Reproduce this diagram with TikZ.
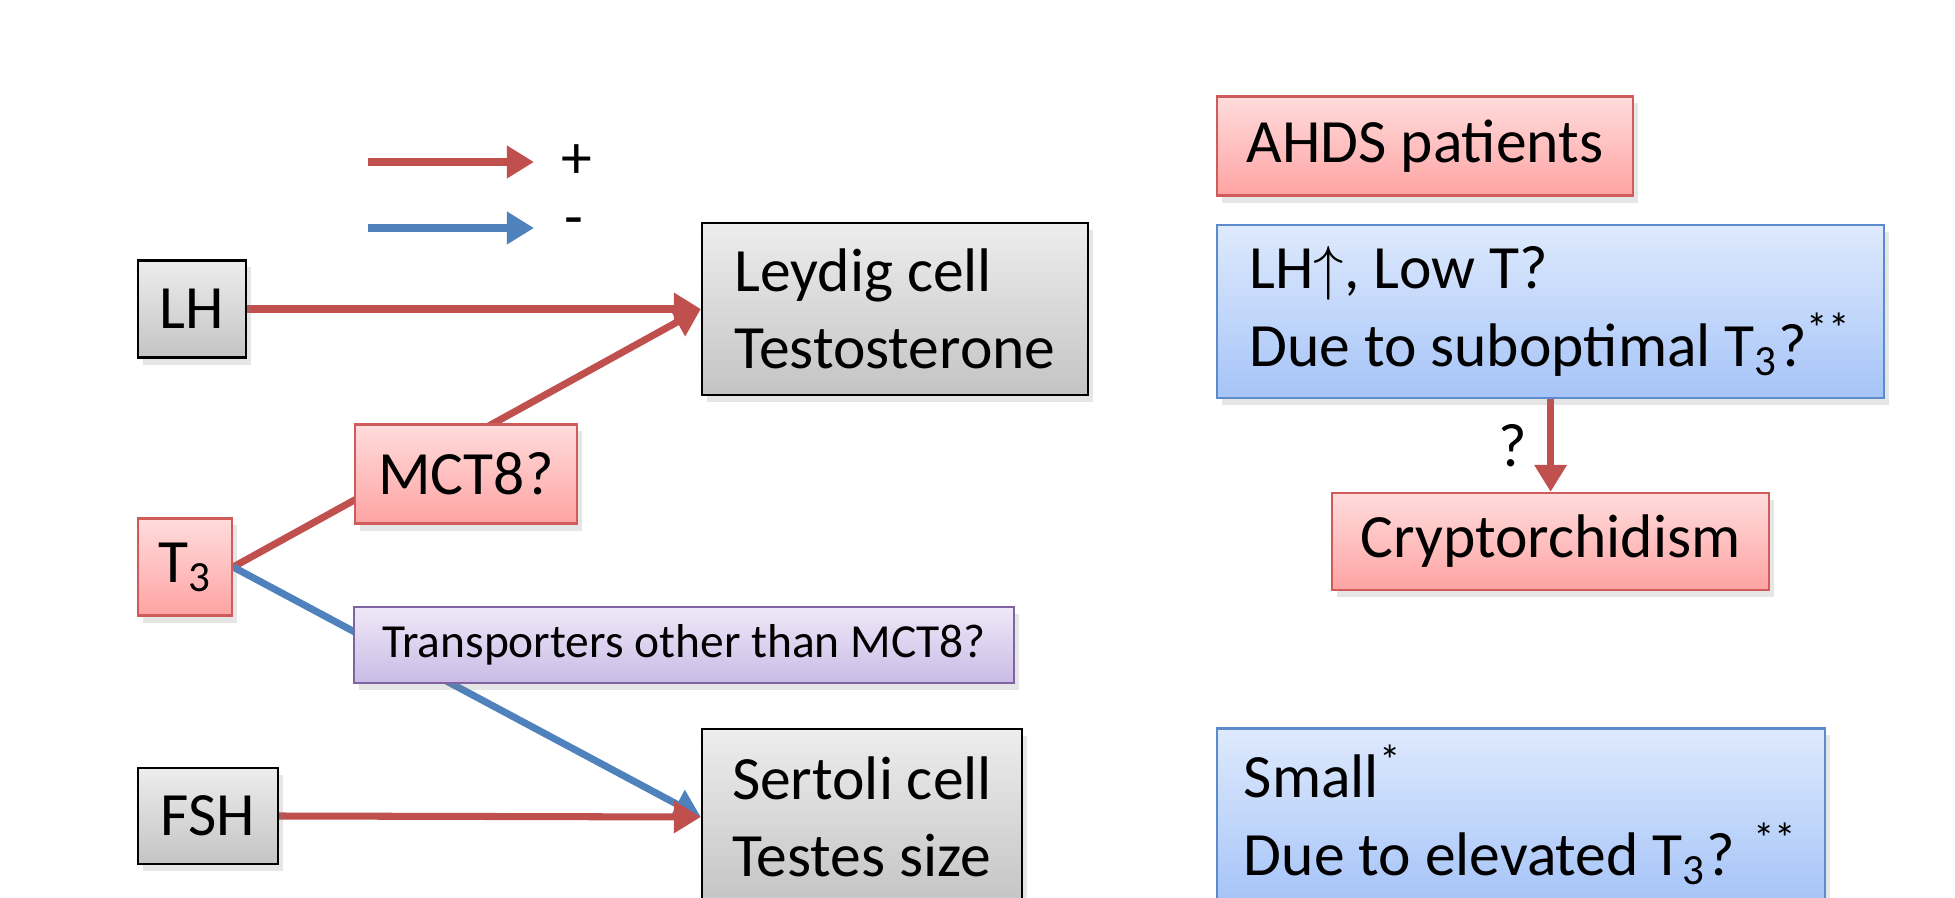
\documentclass[tikz,border=0pt]{standalone}
\usepackage{fontspec}
\setmainfont{Carlito}
\usetikzlibrary{arrows.meta,positioning,shadows,backgrounds}
\definecolor{posred}{HTML}{C0504D}
\definecolor{negblue}{HTML}{4F81BD}
\definecolor{greytop}{HTML}{EDEDED}
\definecolor{greybot}{HTML}{C4C4C4}
\definecolor{pinkline}{HTML}{CF5B5B}
\definecolor{pinktop}{HTML}{FFDCDC}
\definecolor{pinkbot}{HTML}{FFA3A3}
\definecolor{blueline}{HTML}{5B8BCB}
\definecolor{bluetop}{HTML}{DEEAFD}
\definecolor{bluebot}{HTML}{A6C4F8}
\definecolor{purpleline}{HTML}{8064A2}
\definecolor{purpletop}{HTML}{EFE8F8}
\definecolor{purplebot}{HTML}{CABBE6}

\begin{document}
\begin{tikzpicture}[x=0.01cm, y=-0.01cm, node distance=0.93cm,
    every node/.style={font=\fontsize{17.5}{22}\selectfont},
    box/.style={draw, line width=0.6pt, align=left, inner sep=0pt,
      drop shadow={opacity=0.2, shadow xshift=0.5mm, shadow yshift=-0.7mm}},
    boxsize/.style 2 args={minimum width=#1, minimum height=#2},
    greybox/.style={box, draw=black, top color=greytop, bottom color=greybot},
    pinkbox/.style={box, draw=pinkline, top color=pinktop, bottom color=pinkbot},
    bluebox/.style={box, draw=blueline, top color=bluetop, bottom color=bluebot},
    purplebox/.style={box, draw=purpleline, top color=purpletop, bottom color=purplebot},
    posarrow/.style={-{Triangle[length=2.7mm, width=3.1mm]}, line width=2pt, posred},
    negarrow/.style={-{Triangle[length=2.7mm, width=3.1mm]}, line width=2pt, negblue}]
  \useasboundingbox (0,0) rectangle (1955,898);
  \clip (0,0) rectangle (1955,898);
  % legend
  \coordinate (legpos) at (368,162);
  \coordinate (legneg) at (368,228);
  \node[anchor=west, inner xsep=0.27cm] (plus) at (534,162) {+};
  \node[anchor=west, inner xsep=0.3cm] (minus) at (534,228) {-};
  % hormones and cells
  \node[greybox, boxsize={1.08cm}{0.97cm}] (lh) at (192,309) {LH};
  \node[greybox, boxsize={3.86cm}{1.72cm}] (leydig) at (895,309) {Leydig cell\\Testosterone};
  \node[pinkbox, boxsize={2.21cm}{0.99cm}] (mct) at (466,474) {MCT8?};
  \node[pinkbox, boxsize={0.94cm}{0.97cm}] (t3) at (185,567) {T\textsubscript{3}};
  \node[purplebox, boxsize={6.59cm}{0.76cm}, font=\fontsize{13.5}{16}\selectfont] (other) at (684,645) {Transporters other than MCT8?};
  \node[greybox, boxsize={1.40cm}{0.96cm}] (fsh) at (208,816) {FSH};
  \node[greybox, boxsize={3.20cm}{1.76cm}] (sertoli) at (862,817) {Sertoli cell\\Testes size};
  % patients
  \node[pinkbox, boxsize={4.16cm}{0.99cm}] (ahds) at (1425,146) {AHDS patients};
  \node[bluebox, boxsize={6.67cm}{1.73cm}, below right=0.27cm and 0cm of ahds.south west] (lhup) {LH$\uparrow$, Low T?\\Due to suboptimal T\textsubscript{3}?\textsuperscript{**}};
  \node[pinkbox, boxsize={4.37cm}{0.97cm}, below=of lhup] (crypt) {Cryptorchidism};
  \node[bluebox, boxsize={6.08cm}{1.73cm}] (small) at (1521,815) {Small\textsuperscript{*}\\Due to elevated T\textsubscript{3}? \textsuperscript{**}};
  \begin{scope}[on background layer]
    \draw[posarrow] (legpos) -- (plus);
    \draw[negarrow] (legneg) -- (minus);
    \foreach \a/\b/\s in {lh/leydig/posarrow, t3/leydig/posarrow, t3/sertoli/negarrow, fsh/sertoli/posarrow}{\draw[\s] (\a.east) -- (\b.west);}
    \draw[posarrow] (lhup) -- node[left, inner xsep=0.2cm, text=black] {?} (crypt);
  \end{scope}
\end{tikzpicture}
\end{document}
